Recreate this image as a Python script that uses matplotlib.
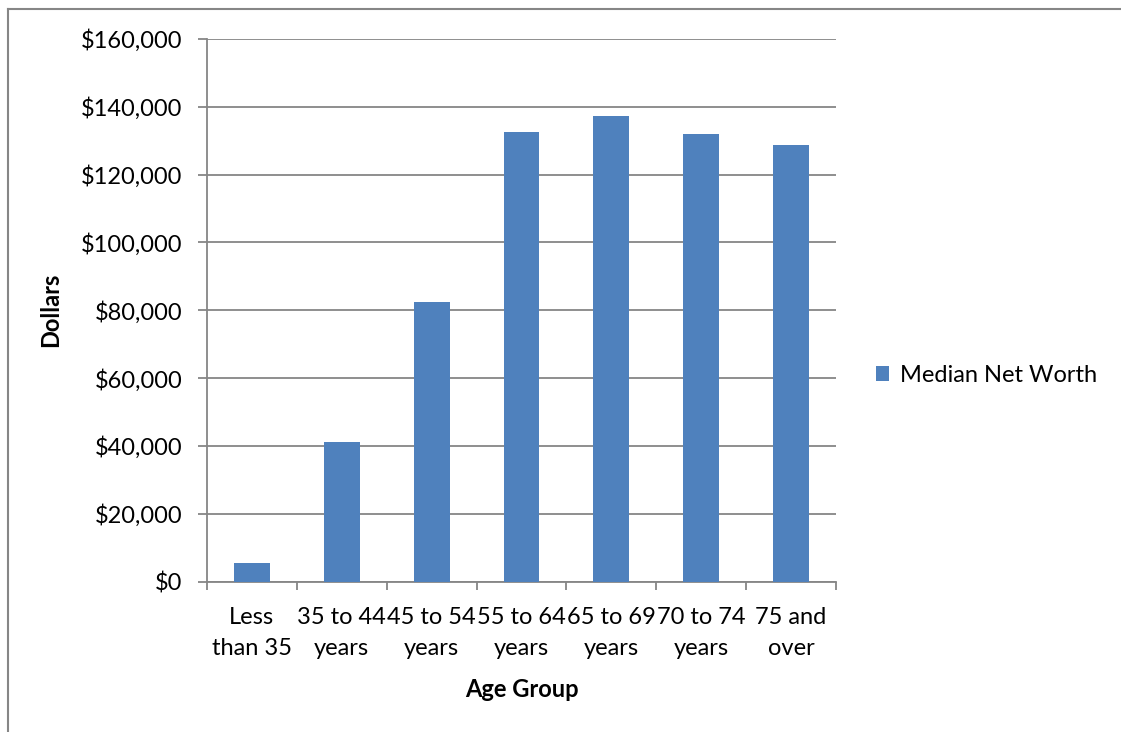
import numpy as np
import matplotlib
matplotlib.use("Agg")
import matplotlib.pyplot as plt
from matplotlib.lines import Line2D
from matplotlib.ticker import FuncFormatter, FixedLocator

# 年齢層別の純資産中央値
age_groups = ["Less\nthan 35", "35 to 44\nyears", "45 to 54\nyears", "55 to 64\nyears",
              "65 to 69\nyears", "70 to 74\nyears", "75 and\nover"]
median_net_worth = [5400, 41100, 82400, 132450, 137150, 131850, 128700]
series_name = "Median Net Worth"

plt.rcParams['font.family'] = ['Lato', 'DejaVu Sans']

grid_c = "#868686"
bar_c = "#4F81BD"
fs = 17

fig = plt.figure(figsize=(11.21, 7.32), dpi=100)
ax = fig.add_axes([207 / 1121, 1 - 581.5 / 732, 629 / 1121, 542.5 / 732])

x = np.arange(len(age_groups))
ax.bar(x, median_net_worth, width=0.4, color=bar_c, zorder=3, label=series_name)

ax.set_xlim(-0.5, len(age_groups) - 0.5)
ax.set_ylim(0, 160000)
ax.set_yticks(range(0, 160001, 20000))
ax.yaxis.set_major_formatter(FuncFormatter(lambda v, p: "${:,.0f}".format(v)))
ax.grid(axis="y", color=grid_c, linewidth=1.3, zorder=0)

# 目盛りは区切り位置、ラベルはカテゴリ中央
ax.xaxis.set_major_locator(FixedLocator(np.arange(-0.5, len(age_groups), 1)))
ax.xaxis.set_major_formatter(FuncFormatter(lambda v, p: ""))
ax.xaxis.set_minor_locator(FixedLocator(x))
ax.set_xticklabels(age_groups, minor=True, fontsize=fs, linespacing=1.6)
ax.tick_params(axis="x", which="minor", length=0, pad=18)
ax.tick_params(axis="x", which="major", length=5.8, width=1.3, color=grid_c)
ax.tick_params(axis="y", length=6.5, width=1.3, color=grid_c, labelsize=fs, pad=11)

for s in ["top", "right"]:
    ax.spines[s].set_visible(False)
for s in ["left", "bottom"]:
    ax.spines[s].set_color(grid_c)
    ax.spines[s].set_linewidth(1.3)

ax.set_xlabel("Age Group", fontsize=fs, fontweight="bold", labelpad=14)
ax.set_ylabel("Dollars", fontsize=fs, fontweight="bold", labelpad=14)

ax.legend(loc="center left", bbox_to_anchor=(1.03, 0.38), frameon=False,
          fontsize=fs, handlelength=0.55, handleheight=0.55, handletextpad=0.45)

# グラフエリアの枠線
fig.add_artist(Line2D([8 / 1121, 8 / 1121], [0, 1 - 9 / 732], color=grid_c, linewidth=1.5))
fig.add_artist(Line2D([8 / 1121, 1], [1 - 9 / 732, 1 - 9 / 732], color=grid_c, linewidth=1.5))

fig.savefig("out.png", dpi=100)
